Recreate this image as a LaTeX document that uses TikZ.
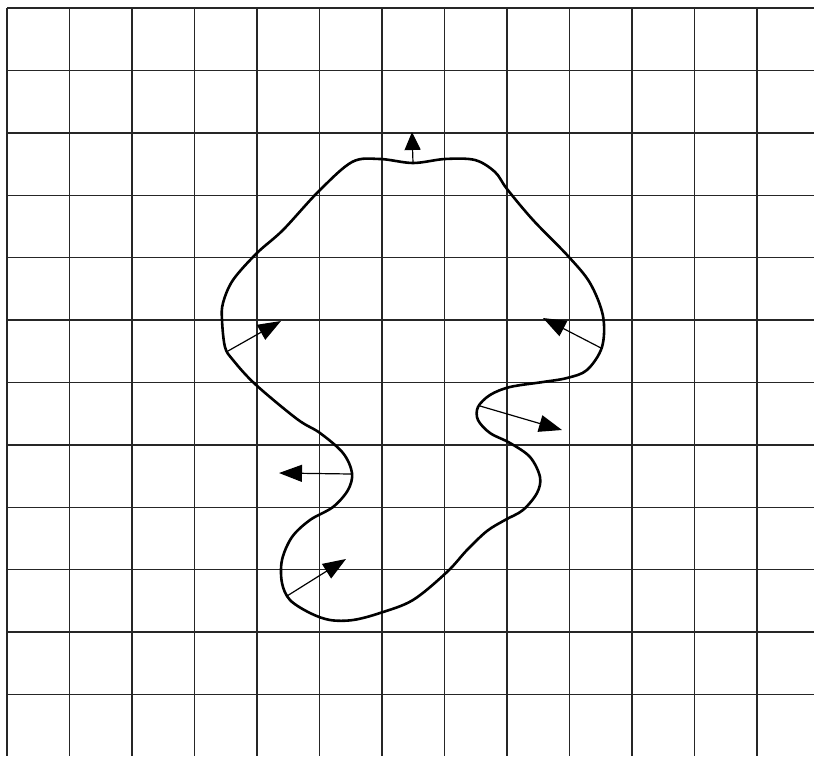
\documentclass[tikz,border=0pt]{standalone}
\usepackage{tikz}
\usetikzlibrary{arrows.meta}

\begin{document}
\begin{tikzpicture}[
    x=1pt, y=-1pt,
    gridline/.style={line width=1.4pt, black!85},
    outline/.style={line width=2.6pt, black, line join=round},
    normal/.style={-{Triangle[length=23pt,width=17pt]}, line width=1.2pt, black},
    shortnormal/.style={normal, -{Triangle[length=18pt,width=16pt]}}
  ]
    \useasboundingbox (0,0) rectangle (814,756);

    % === Grid ===
    \foreach \gx in {0,...,12}
      \draw[gridline] (7+62.5*\gx,8) -- (7+62.5*\gx,756);
    \foreach \gy in {0,...,11}
      \draw[gridline] (7,8+62.4*\gy) -- (814,8+62.4*\gy);

    % === Closed curve ===
    \draw[outline] plot[smooth cycle, tension=0.55] coordinates {
      (413,163) (445,159) (475,160) (495,172) (507,189) (533,220)
      (568,256) (590,283) (603,316) (602,347) (587,370) (567,378)
      (543,382) (510,387) (490,395) (478,407) (478,420) (490,433)
      (510,443) (530,457) (540,477) (537,493) (523,510) (505,520)
      (487,531) (467,550) (447,572) (413,600) (380,613) (353,620)
      (330,620) (310,613) (290,600) (282,583) (282,560) (292,537)
      (310,520) (333,507) (348,490) (352,473) (343,453) (320,433)
      (297,419) (255,384) (233,360) (225,347) (222,320) (223,303)
      (233,280) (257,253) (283,230) (318,192) (352,162) (380,159)};

    % === Normals ===
    \coordinate (top0) at (413,163);
    \coordinate (top1) at (412,132);
    \coordinate (lu0) at (228,351);
    \coordinate (lu1) at (281,321);
    \coordinate (ru0) at (601,348);
    \coordinate (ru1) at (543,318);
    \coordinate (rm0) at (480,406);
    \coordinate (rm1) at (562,430);
    \coordinate (lm0) at (351,474);
    \coordinate (lm1) at (279,473);
    \coordinate (lb0) at (287,596);
    \coordinate (lb1) at (346,559);

    \draw[shortnormal] (top0) -- (top1);
    \draw[normal] (lu0) -- (lu1);
    \draw[normal] (ru0) -- (ru1);
    \draw[normal] (rm0) -- (rm1);
    \draw[normal] (lm0) -- (lm1);
    \draw[normal] (lb0) -- (lb1);
  \end{tikzpicture}
\end{document}
